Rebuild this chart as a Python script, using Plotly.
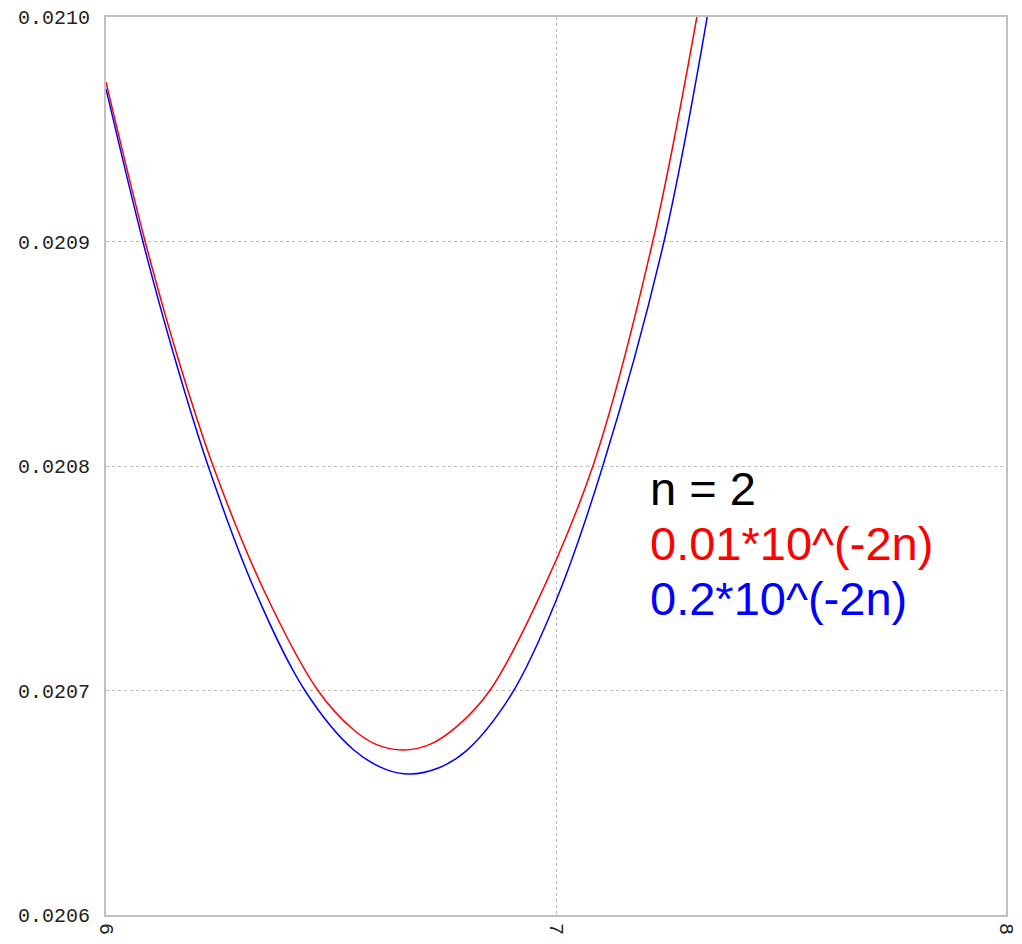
import plotly.graph_objects as go

# Data
red_x = [6.000, 6.087, 6.16, 6.238, 6.35, 6.471, 6.55, 6.60, 6.66, 6.72, 6.78, 6.853, 6.95, 7.082, 7.215, 7.313]
red_y = [0.020971, 0.020900, 0.020848, 0.020800, 0.020745, 0.020700, 0.0206825, 0.020676, 0.0206735,
         0.020676, 0.020684, 0.020700, 0.020736, 0.020800, 0.020900, 0.021000]

blue_x = [6.000, 6.082, 6.15, 6.227, 6.33, 6.442, 6.55, 6.62, 6.676, 6.74, 6.80, 6.90, 7.00, 7.104, 7.24, 7.336]
blue_y = [0.020968, 0.020900, 0.020850, 0.020800, 0.020745, 0.020700, 0.0206736, 0.020665, 0.0206628,
          0.0206656, 0.020673, 0.020698, 0.020740, 0.020800, 0.020900, 0.021000]

x_ticks = [6, 7, 8]
y_ticks = [0.0206, 0.0207, 0.0208, 0.0209, 0.0210]

labels = ["n = 2", "0.01*10^(-2n)", "0.2*10^(-2n)"]
label_colors = ["#000000", "#ff0000", "#0000ff"]
label_y = [0.0207898, 0.0207655, 0.0207410]

fig = go.Figure()
fig.add_trace(go.Scatter(x=red_x, y=red_y, mode="lines", line=dict(color="#ff0000", width=1.5, shape="spline", smoothing=1.0), showlegend=False))
fig.add_trace(go.Scatter(x=blue_x, y=blue_y, mode="lines", line=dict(color="#0000ff", width=1.5, shape="spline", smoothing=1.0), showlegend=False))

for txt, col, yy in zip(labels, label_colors, label_y):
    fig.add_annotation(x=7.205, y=yy, xref="x", yref="y", text=txt, showarrow=False,
                       xanchor="left", yanchor="middle",
                       font=dict(family="Liberation Sans, Arial", size=47, color=col))

axis_font = dict(family="Liberation Mono, monospace", size=20, color="#222222")

fig.update_layout(
    width=1022, height=944,
    margin=dict(l=106, r=16, t=17, b=29),
    paper_bgcolor="white", plot_bgcolor="white",
    xaxis=dict(range=[6, 8], tickvals=x_ticks, ticktext=[str(v) for v in x_ticks], tickangle=90,
               showgrid=True, gridcolor="#b8b8b8", griddash="dot", gridwidth=1,
               showline=True, linecolor="#c0c0c0", linewidth=2, mirror=True, automargin=False,
               zeroline=False, tickfont=axis_font, ticks="", ticklabelstandoff=2),
    yaxis=dict(range=[0.0206, 0.0210], tickvals=y_ticks, ticktext=["%.4f" % v for v in y_ticks],
               showgrid=True, gridcolor="#b8b8b8", griddash="dot", gridwidth=1,
               showline=True, linecolor="#c0c0c0", linewidth=2, mirror=True, automargin=False,
               zeroline=False, tickfont=axis_font, ticks="", ticklabelstandoff=10),
)

fig.write_html("out.html", config={"displayModeBar": False},
               post_script="document.body.style.margin='0';document.body.style.overflow='hidden';")
